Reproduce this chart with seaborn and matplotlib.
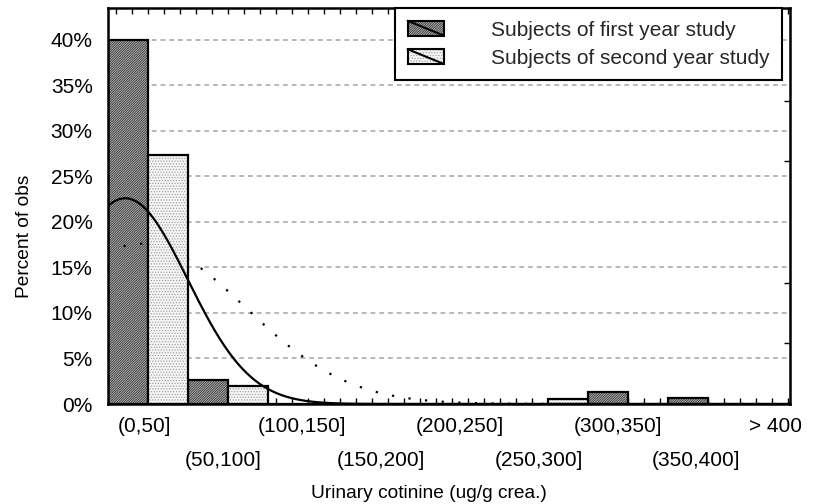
import numpy as np
import pandas as pd
import seaborn as sns
import matplotlib
matplotlib.use("Agg")
import matplotlib.pyplot as plt
from matplotlib.patches import Rectangle, Patch
from matplotlib.lines import Line2D
from matplotlib.ticker import FixedLocator, MultipleLocator

# Histogram of urinary cotinine, percent of subjects per interval
categories = ["(0,50]", "(50,100]", "(100,150]", "(150,200]", "(200,250]",
              "(250,300]", "(300,350]", "(350,400]", "> 400"]
first_year_pct = [40.0, 2.6, 0.0, 0.0, 0.0, 0.0, 1.35, 0.7, 0.0]
second_year_pct = [27.4, 2.0, 0.0, 0.0, 0.0, 0.6, 0.0, 0.0, 0.0]
series_names = ["Subjects of first year study", "Subjects of second year study"]

# Fitted normal curves (mean and sd in ug/g crea., peak in percent)
first_fit_mean, first_fit_sd, first_fit_peak = 10.75, 39.0, 22.6
second_fit_mean, second_fit_sd, second_fit_peak = 21.0, 64.5, 17.6

y_ticks = [0, 5, 10, 15, 20, 25, 30, 35, 40]
bin_width = 50.0

sns.set_theme(style="ticks")
plt.rcParams["font.family"] = ["Liberation Sans", "DejaVu Sans"]
plt.rcParams["hatch.linewidth"] = 0.5
FS = 15
FS_LABEL = 13.8

fig = plt.figure(figsize=(8.18, 5.04), dpi=100)
ax = fig.add_axes([108 / 818, 1 - 404 / 504, (790 - 108) / 818, (404 - 8) / 504])

df = pd.DataFrame({
    "interval": categories * 2,
    "pct": first_year_pct + second_year_pct,
    "group": [series_names[0]] * len(categories) + [series_names[1]] * len(categories),
})
sns.barplot(data=df, x="interval", y="pct", hue="group", order=categories,
            hue_order=series_names, width=1.0, gap=0, dodge=True,
            palette=["#a0a0a0", "#f2f2f2"], saturation=1, legend=False, ax=ax)

first_style = dict(facecolor="#b4b4b4", hatch="//////////////", edgecolor="#202020")
second_style = dict(facecolor="#f4f4f4", hatch="......", edgecolor="#9a9a9a")

for p in list(ax.patches):
    cx = p.get_x() + p.get_width() / 2
    is_first = cx < round(cx)
    style = first_style if is_first else second_style
    z = 2 if is_first else 3
    p.set_facecolor(style["facecolor"])
    p.set_hatch(style["hatch"])
    p.set_edgecolor(style["edgecolor"])
    p.set_linewidth(0)
    p.set_zorder(z)
    ax.add_patch(Rectangle(p.get_xy(), p.get_width(), p.get_height(), fill=False,
                           edgecolor="black", linewidth=1.6, zorder=z + 0.1))

# Normal curves, value axis converted to category coordinates
xs = np.linspace(0, 430, 600)
xc = xs / bin_width - 0.5
y_first = first_fit_peak * np.exp(-0.5 * ((xs - first_fit_mean) / first_fit_sd) ** 2)
y_second = second_fit_peak * np.exp(-0.5 * ((xs - second_fit_mean) / second_fit_sd) ** 2)
ax.plot(xc, y_second, color="black", linewidth=1.6, linestyle=(0, (1, 6.5)),
        zorder=2.5)
ax.plot(xc, y_first, color="black", linewidth=1.6, zorder=4)

ax.set_xlim(-0.5, 8.025)
ax.set_ylim(0, 43.5)

# y axis
ax.set_yticks(y_ticks, [f"{v}%" for v in y_ticks])
ax.yaxis.set_minor_locator(FixedLocator([20 / 3 * k for k in range(1, 7)]))
ax.tick_params(axis="y", which="major", length=0, pad=11, labelsize=FS, colors="black")
ax.tick_params(axis="y", which="minor", direction="in", length=4, width=1,
               left=True, right=True, color="black")

# x axis: labels in two staggered rows
xpos = [i * 0.985 - 0.04 for i in range(len(categories))]
ax.set_xticks(xpos, categories)
ax.xaxis.set_minor_locator(MultipleLocator(0.2))
ax.tick_params(axis="x", which="major", length=0, labelsize=FS, colors="black")
ax.tick_params(axis="x", which="minor", direction="in", length=4, width=1,
               bottom=True, top=True, color="black")
for i, t in enumerate(ax.xaxis.get_major_ticks()):
    t.set_pad(9 if i % 2 == 0 else 33.5)

ax.yaxis.grid(True, color="#b8b8b8", linestyle=(0, (2.5, 2)), linewidth=1.4, zorder=0.5)
ax.set_axisbelow(True)
for s in ax.spines.values():
    s.set_color("black")
    s.set_linewidth(1.8)
    s.set_zorder(5)

ax.set_xlabel("Urinary cotinine (ug/g crea.)", fontsize=FS_LABEL, color="black")
ax.xaxis.set_label_coords(0.471, -0.205)
ax.set_ylabel("Percent of obs", fontsize=FS_LABEL, color="black")
ax.yaxis.set_label_coords(-0.11, 0.424)


class BarKey:
    """Legend key: filled swatch crossed by a diagonal line."""
    def legend_artist(self, legend, orig_handle, fontsize, handlebox):
        x0, y0 = -handlebox.xdescent, -handlebox.ydescent
        w, h = handlebox.width, handlebox.height
        tr = handlebox.get_transform()
        rect = Rectangle((x0, y0), w, h, facecolor=orig_handle.get_facecolor(),
                         hatch=orig_handle.get_hatch(), edgecolor=orig_handle.get_edgecolor(),
                         linewidth=0, transform=tr)
        frame = Rectangle((x0, y0), w, h, fill=False, edgecolor="black",
                          linewidth=1.5, transform=tr)
        diag = Line2D([x0, x0 + w], [y0 + h, y0], color="black", linewidth=1.5,
                      transform=tr)
        for a in (rect, frame, diag):
            handlebox.add_artist(a)
        return rect


handles = [Patch(**first_style), Patch(**second_style)]
leg = ax.legend(handles, series_names, handler_map={Patch: BarKey()},
                loc="upper right", bbox_to_anchor=((782 - 108) / 682, 1.0),
                borderaxespad=0, frameon=True, fancybox=False, framealpha=1,
                edgecolor="black", fontsize=FS, handlelength=1.75, handleheight=0.72,
                handletextpad=2.25, borderpad=0.6, labelspacing=0.45)
leg.get_frame().set_linewidth(1.5)
leg.set_zorder(6)

fig.savefig("out.png", dpi=100, facecolor="white")
